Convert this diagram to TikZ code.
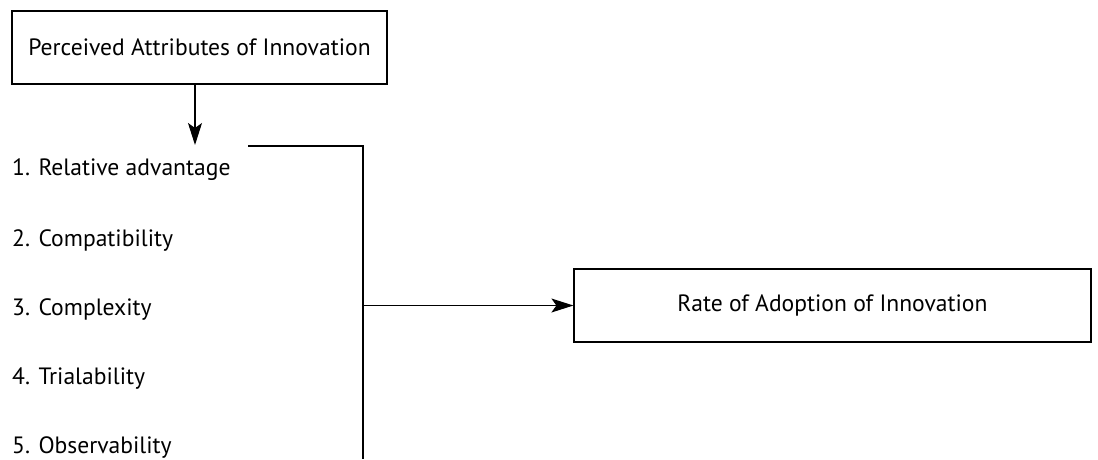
\documentclass[tikz,border=0pt]{standalone}
\usepackage{fontspec}
\setmainfont{PT Sans}
\usetikzlibrary{arrows.meta}
\begin{document}
\begin{tikzpicture}[x=1pt,y=1pt,
  box/.style={draw,line width=1.2pt,inner sep=0pt,font=\fontsize{23.6}{28}\selectfont},
  item/.style={anchor=base west,inner sep=0pt,font=\fontsize{23.6}{28}\selectfont},
  conn/.style={line width=1.2pt},
  arr/.style={conn,-{Stealth[length=22pt,width=14pt,inset=5pt]}}]
\useasboundingbox (0,0) rectangle (1098,-459);
\node[box,minimum width=375pt,minimum height=73pt] (top) at (199.5,-47.5) {Perceived Attributes of Innovation};
\node[box,minimum width=517pt,minimum height=73pt] (rate) at (832.5,-305.5) {Rate of Adoption of Innovation};
\node[item] (i1) at (12,-175) {1. Relative advantage};
\node[item] (i2) at (12,-246) {2. Compatibility};
\node[item] (i3) at (12,-315) {3. Complexity};
\node[item] (i4) at (12,-384) {4. Trialability};
\node[item] (i5) at (12,-453) {5. Observability};
\coordinate (a0) at (195,-84);
\coordinate (a1) at (195,-145);
\coordinate (b0) at (248,-146);
\coordinate (b1) at (363,-146);
\coordinate (b2) at (363,-459);
\coordinate (c0) at (363,-305.5);
\draw[arr] (a0) -- (a1);
\draw[conn] (b0) -- (b1) -- (b2);
\draw[arr] (c0) -- (rate.west);
\end{tikzpicture}
\end{document}
